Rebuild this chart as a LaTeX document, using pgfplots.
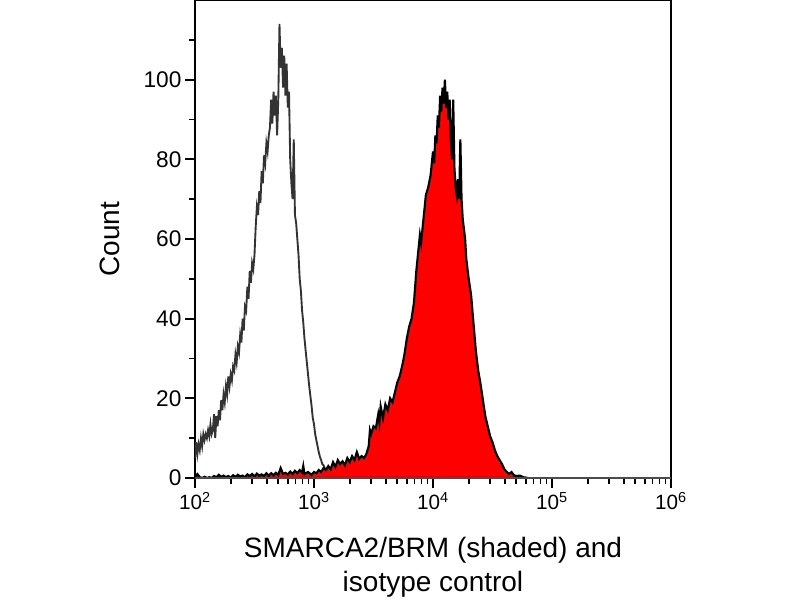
\documentclass[border=0pt]{standalone}
\usepackage{fontspec}
\setmainfont{Liberation Sans}
\usepackage{pgfplots}
\pgfplotsset{compat=1.18}
\usepackage{pgfplotstable}

% isotype control: lx = log10(intensity), y = count
\pgfplotstableread{
lx y
2.00 5
2.01 9
2.02 6
2.03 8.5
2.04 7
2.05 10
2.06 8
2.07 11
2.08 9.5
2.09 11
2.10 10
2.11 12
2.12 10.5
2.13 13.5
2.14 11
2.15 12
2.16 16
2.17 10
2.18 15.5
2.19 13
2.20 17
2.21 14.5
2.22 19.5
2.23 17
2.24 21
2.25 19
2.26 23
2.27 21
2.28 25.5
2.29 23
2.30 26
2.31 24.5
2.32 28
2.33 27
2.34 31
2.35 29
2.36 33
2.37 31.5
2.38 36
2.39 34
2.40 40
2.41 37
2.42 43
2.43 42
2.44 48
2.45 45
2.46 52
2.47 49
2.48 54
2.49 52.5
2.50 56
2.51 63
2.52 68
2.53 66
2.54 72
2.55 69
2.56 77
2.57 74
2.58 81
2.59 79
2.60 84
2.61 82
2.62 86
2.63 88
2.64 95
2.65 89
2.66 97
2.67 91
2.68 96
2.69 86
2.70 95
2.71 114
2.72 103
2.73 108
2.74 98
2.75 106
2.76 96
2.77 104
2.78 93
2.79 97
2.80 80
2.81 74
2.82 70
2.83 85
2.84 66
2.85 64
2.86 60
2.87 56
2.88 50
2.89 47
2.90 42
2.91 39
2.92 35
2.93 32
2.94 29
2.95 26
2.96 23
2.97 20.5
2.98 18
2.99 15
3.00 13.5
3.01 11
3.02 9.5
3.03 8
3.04 6.5
3.05 5.3
3.06 4.5
3.07 3.5
3.08 3.2
3.09 2.5
3.10 2
3.12 1.5
3.14 1
3.16 0.7
3.20 0.5
3.25 0.3
3.30 0.2
3.40 0
}\isotype

% SMARCA2/BRM (shaded)
\pgfplotstableread{
lx y
2.00 0.3
2.02 1
2.04 0.2
2.06 0
2.08 0.3
2.10 0
2.12 0.2
2.14 0
2.16 0.5
2.18 0.2
2.20 0.8
2.22 0.3
2.24 0.6
2.26 0.2
2.28 0.5
2.30 0.1
2.32 0.7
2.34 0.3
2.36 0.8
2.38 0.4
2.40 0.6
2.42 0.2
2.44 0.9
2.46 0.5
2.48 1
2.50 0.4
2.52 1.1
2.54 0.6
2.56 0.9
2.58 0.5
2.60 1.2
2.62 0.6
2.64 1.2
2.66 0.7
2.68 1.3
2.70 0.8
2.72 2.5
2.74 1
2.76 1.3
2.78 0.9
2.80 1.6
2.82 1
2.84 1.8
2.86 1.2
2.88 2
2.90 1.4
2.91 3
2.92 1
2.95 1.5
2.98 0.8
3.00 1.5
3.02 1.2
3.04 2
3.06 1.5
3.08 2.5
3.10 2
3.12 3
3.14 2.2
3.16 4
3.18 2.8
3.20 4.5
3.22 3.5
3.24 4.2
3.26 3.2
3.28 5
3.30 4
3.32 5.5
3.34 4.5
3.36 6.5
3.38 4.8
3.40 5.5
3.42 5
3.44 6
3.46 8
3.47 12
3.48 11
3.50 13
3.52 12.5
3.54 16
3.55 14
3.56 18
3.58 15
3.60 18.5
3.62 17
3.64 20
3.66 19
3.68 21.5
3.70 24
3.72 25.5
3.74 28
3.76 31
3.78 35
3.80 38
3.82 40
3.84 44
3.86 52
3.87 55
3.88 58
3.89 61
3.90 59
3.92 65
3.94 71
3.96 73
3.98 76
4.00 82
4.01 79
4.02 86
4.03 84
4.04 91
4.05 88
4.06 96
4.07 92
4.08 98
4.09 94
4.10 100
4.11 93
4.12 97
4.13 90
4.14 95
4.15 85
4.16 80
4.17 95
4.18 78
4.19 73
4.20 71
4.21 75
4.22 70
4.23 85
4.24 70
4.25 65
4.27 60
4.28 55
4.30 50
4.32 46
4.34 39
4.36 32
4.38 27
4.40 23.5
4.42 19.5
4.44 15.5
4.46 13
4.48 10.5
4.50 9
4.52 7
4.54 5.5
4.56 4.5
4.58 3.5
4.60 2.2
4.62 1.5
4.64 1
4.66 1.5
4.68 0.7
4.70 0.5
4.73 0.6
4.76 0.2
4.80 0
}\smarca

\begin{document}
\begin{tikzpicture}
\useasboundingbox (-146.25pt,-91.5pt) rectangle (453.75pt,358.5pt);
\begin{axis}[
  at={(0,0)}, anchor=south west,
  scale only axis, width=357pt, height=358.5pt,
  xmode=log, xmin=1e2, xmax=1e6, ymin=0, ymax=120,
  xtick={1e2,1e3,1e4,1e5,1e6},
  xticklabels={10\textsuperscript{2},10\textsuperscript{3},10\textsuperscript{4},10\textsuperscript{5},10\textsuperscript{6}},
  minor xtick={200,300,400,500,600,700,800,900,2000,3000,4000,5000,6000,7000,8000,9000,20000,30000,40000,50000,60000,70000,80000,90000,200000,300000,400000,500000,600000,700000,800000,900000},
  ytick={0,20,40,60,80,100},
  minor ytick={10,30,50,70,90,110},
  tick align=outside, xtick pos=bottom, ytick pos=left,
  major tick length=7.5pt, minor tick length=4.5pt,
  every tick/.style={black, line width=1.4pt},
  axis line style={black, line width=1.5pt},
  /pgf/number format/assume math mode=true,
  yticklabel style={font=\fontsize{17}{20}\selectfont, inner sep=2.5pt},
  xticklabel style={font=\fontsize{15.5}{18}\selectfont},
  ylabel={Count},
  xlabel={SMARCA2/BRM (shaded) and\\isotype control},
  ylabel style={font=\fontsize{21}{25}\selectfont, at={(axis description cs:-0.1786,0.5)}, anchor=center},
  xlabel style={font=\fontsize{21}{25.5}\selectfont, align=center, at={(axis description cs:0.5,-0.1225)}, anchor=north, inner sep=0pt},
]
\addplot[color={rgb,255:red,51;green,51;blue,51}, line width=1.4pt] table[x expr={10^\thisrow{lx}}, y=y] {\isotype};
\addplot[fill=red, draw=black, line width=1.6pt] table[x expr={10^\thisrow{lx}}, y=y] {\smarca} \closedcycle;
\end{axis}
\draw[black!70, line width=1.5pt] (current axis.south west) -- (current axis.south east);
\end{tikzpicture}
\end{document}
